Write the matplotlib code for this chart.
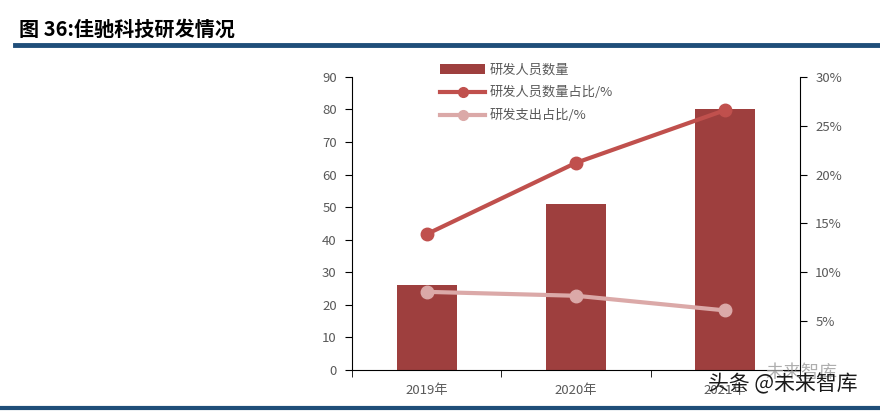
import numpy as np
import matplotlib.pyplot as plt
from matplotlib.patches import Patch
from matplotlib.lines import Line2D
from matplotlib.ticker import FuncFormatter

plt.rcParams['font.family'] = ['Noto Sans CJK SC', 'DejaVu Sans']

years = ['2019年', '2020年', '2021年']
staff = [26, 51, 80]
staff_ratio = [13.9, 21.2, 26.6]
rd_ratio = [8.0, 7.6, 6.1]

bar_color = '#9E3F3E'
line1_color = '#C0504D'
line2_color = '#DBA9A8'
tick_color = '#595959'
blue = '#1F4E79'

fig = plt.figure(figsize=(8.8, 4.13), dpi=100)
ax = fig.add_axes([0.4, 0.104, 0.509, 0.71])
x = np.arange(len(years))
ax.bar(x, staff, width=0.4, color=bar_color, zorder=2)
ax.set_xlim(-0.5, 2.5)
ax.set_ylim(0, 90)
ax.set_yticks(range(0, 91, 10))
ax.set_xticks(x)
ax.set_xticklabels(years)
ax.set_xticks([-0.5, 0.5, 1.5, 2.5], minor=True)
ax.tick_params(axis='x', which='major', length=0, pad=10)
ax.tick_params(axis='x', which='minor', length=5, direction='out')
ax.tick_params(axis='y', length=5, direction='out', pad=6)
ax.tick_params(labelsize=9.5, labelcolor=tick_color)
ax.spines['top'].set_visible(False)
ax.spines['right'].set_visible(False)

ax2 = ax.twinx()
ax2.plot(x, staff_ratio, color=line1_color, lw=3, marker='o', ms=9, zorder=3)
ax2.plot(x, rd_ratio, color=line2_color, lw=3, marker='o', ms=9, zorder=3)
ax2.set_ylim(0, 30)
ax2.set_yticks([5, 10, 15, 20, 25, 30])
ax2.yaxis.set_major_formatter(FuncFormatter(lambda v, p: '%d%%' % v))
ax2.tick_params(axis='y', length=5, direction='out', pad=6, labelsize=9.5, labelcolor=tick_color)
ax2.spines['top'].set_visible(False)
ax2.spines['left'].set_visible(False)
ax2.spines['bottom'].set_visible(False)

handles = [
    Patch(facecolor=bar_color, label='研发人员数量'),
    Line2D([0], [0], color=line1_color, lw=3, marker='o', ms=7, label='研发人员数量占比/%'),
    Line2D([0], [0], color=line2_color, lw=3, marker='o', ms=7, label='研发支出占比/%'),
]
fig.legend(handles=handles, loc='upper left', bbox_to_anchor=(0.487, 0.875),
           frameon=False, fontsize=9.5, handlelength=3.4, handleheight=0.7,
           labelspacing=0.75, handletextpad=0.3, labelcolor=tick_color)

# title and rules
fig.text(0.022, 0.93, '图 36:佳驰科技研发情况', fontsize=14.5, fontweight='bold',
         ha='left', va='center')
fig.add_artist(Line2D([0.017, 1.0], [0.892, 0.892], color=blue, lw=3.5))
fig.add_artist(Line2D([0.0, 1.0], [0.012, 0.012], color=blue, lw=3))

# watermark
fig.text(0.87, 0.098, '未来智库', fontsize=13, color='#9A9A9A', ha='left', va='center', alpha=0.8)
fig.text(0.805, 0.07, '头条 @未来智库', fontsize=15, color='#1A1A1A', ha='left', va='center')

fig.savefig('out.png', dpi=100)
